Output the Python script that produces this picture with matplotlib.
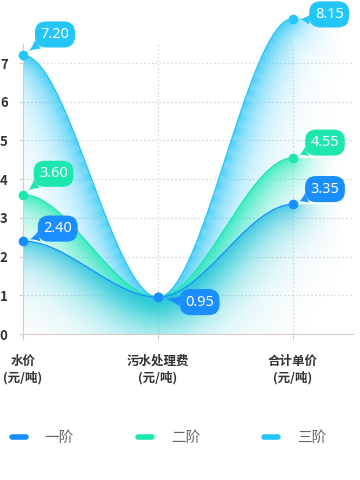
import numpy as np
import matplotlib
matplotlib.use("Agg")
import matplotlib.pyplot as plt
from matplotlib.colors import to_rgb
from matplotlib.lines import Line2D
from matplotlib.patches import Polygon

plt.rcParams["font.family"] = ["Noto Sans CJK SC", "DejaVu Sans"]

categories = ["水价\n(元/吨)", "污水处理费\n(元/吨)", "合计单价\n(元/吨)"]
series_names = ["一阶", "二阶", "三阶"]
tier1 = [2.40, 0.95, 3.35]
tier2 = [3.60, 0.95, 4.55]
tier3 = [7.20, 0.95, 8.15]
line_colors = ["#1a8dff", "#1de6ae", "#23c6f6"]
fill_colors = ["#2cbfe0", "#1fe9b4", "#22c3f5"]
yticks = [0, 1, 2, 3, 4, 5, 6, 7]

W, H = 360, 480
X_MAX, Y_MAX, Y_AXIS_TOP = 2.444, 8.5, 7.49


def smooth(values, n=80):
    # flat tangent at every point, like the original smoothed line
    xs, ys = [], []
    for i in range(len(values) - 1):
        t = np.linspace(0, 1, n, endpoint=False)
        s = 3 * t ** 2 - 2 * t ** 3
        xs.append(i + t)
        ys.append(values[i] + (values[i + 1] - values[i]) * s)
    xs.append([len(values) - 1])
    ys.append([values[-1]])
    return np.concatenate(xs), np.concatenate(ys)


fig = plt.figure(figsize=(W / 100, H / 100), dpi=100)
ax = fig.add_axes([23 / W, 1 - 334 / H, 330 / W, 329 / H])
ax.set_xlim(0, X_MAX)
ax.set_ylim(0, Y_MAX)

px_x = 330 / X_MAX
px_y = 329 / Y_MAX

# gradient fills, strongest close to the curve
gx = np.linspace(0, X_MAX, 240)
gy = np.linspace(0, Y_MAX, 240)
GX, GY = np.meshgrid(gx, gy)
for vals, col in [(tier3, fill_colors[2]), (tier2, fill_colors[1]), (tier1, fill_colors[0])]:
    cx, cy = smooth(vals, 60)
    ext = np.linspace(cx[-1], 2.37, 12)[1:]
    fx = np.concatenate([cx, ext])
    fy = np.concatenate([cy, np.full(len(ext), cy[-1])])
    d = np.full(GX.shape, np.inf)
    for x0, y0 in zip(cx[::2], cy[::2]):
        d = np.minimum(d, np.hypot((GX - x0) * px_x, (GY - y0) * px_y))
    fade = np.clip((2.37 - GX) / 0.45, 0, 1) ** 0.7
    alpha = 0.85 * np.exp(-d / 22.0) * np.where(GX > cx[-1], fade, 1.0)
    rgba = np.zeros(GX.shape + (4,))
    rgba[..., :3] = to_rgb(col)
    rgba[..., 3] = alpha
    poly = Polygon(np.column_stack([np.r_[fx, fx[-1], 0], np.r_[fy, 0, 0]]),
                   closed=True, transform=ax.transData, facecolor="none", edgecolor="none")
    ax.add_patch(poly)
    im = ax.imshow(rgba, extent=[0, X_MAX, 0, Y_MAX], origin="lower",
                   aspect="auto", interpolation="bilinear", zorder=1)
    im.set_clip_path(poly)

# grid
for y in yticks[1:]:
    ax.axhline(y, color="#d6d6d6", lw=0.8, ls=(0, (1.5, 2)), zorder=0.5)
ax.vlines([1, 2], 0, Y_AXIS_TOP, color="#d6d6d6", lw=0.8, ls=(0, (1.5, 2)), zorder=0.5)

# lines and markers
xpos = np.arange(len(categories))
for vals, col in zip([tier3, tier2, tier1], line_colors[::-1]):
    cx, cy = smooth(vals)
    ax.plot(cx, cy, color=col, lw=0.9, zorder=3, clip_on=False)
for vals, col in zip([tier3, tier2, tier1], line_colors[::-1]):
    ax.plot(xpos, vals, ls="none", marker="o", ms=6, color=col, zorder=4, clip_on=False)


def bubble(x, y, text, col, dx, dy, rel=(0.1, 0.1)):
    ax.annotate(text, xy=(x, y), xytext=(dx, dy), textcoords="offset points",
                ha="center", va="center", color="white", fontsize=10.5,
                family=["Noto Sans", "DejaVu Sans"], zorder=6,
                bbox=dict(boxstyle="round,pad=0.38,rounding_size=0.75", fc=col, ec="none"),
                arrowprops=dict(arrowstyle="wedge,tail_width=0.7,shrink_factor=0.35",
                                fc=col, ec="none", shrinkA=0, shrinkB=5, relpos=rel),
                annotation_clip=False)


bubble(0, tier1[0], f"{tier1[0]:.2f}", line_colors[0], 25, 9)
bubble(0, tier2[0], f"{tier2[0]:.2f}", line_colors[1], 22, 15)
bubble(0, tier3[0], f"{tier3[0]:.2f}", line_colors[2], 23, 15)
bubble(1, tier1[1], f"{tier1[1]:.2f}", line_colors[0], 30, -3.5, rel=(0.05, 0.5))
bubble(2, tier1[2], f"{tier1[2]:.2f}", line_colors[0], 23, 11)
bubble(2, tier2[2], f"{tier2[2]:.2f}", line_colors[1], 23, 11)
bubble(2, tier3[2], f"{tier3[2]:.2f}", line_colors[2], 26, 3)

# axes styling
for side in ["top", "right"]:
    ax.spines[side].set_visible(False)
ax.spines["left"].set_bounds(0, Y_AXIS_TOP)
ax.spines["left"].set_color("#d9caca")
ax.spines["bottom"].set_color("#d9caca")
ax.set_yticks(yticks)
ax.set_yticklabels([str(v) for v in yticks], fontsize=9.5, fontweight="bold", color="#333333")
ax.tick_params(axis="y", length=3, color="#d9caca", pad=8)
ax.set_xticks(xpos)
ax.set_xticklabels(categories, fontsize=9, fontweight="bold", color="#333333", linespacing=1.3)
ax.tick_params(axis="x", length=4, color="#d9caca", pad=11)

handles = [Line2D([], [], color=c, lw=4, solid_capstyle="round") for c in line_colors]
fig.legend(handles, series_names, loc="center left", bbox_to_anchor=(12 / W, 1 - 438 / H),
           ncol=3, frameon=False, fontsize=10.5, labelcolor="#666666",
           handlelength=0.95, handletextpad=1.3, columnspacing=4.4,
           borderpad=0, borderaxespad=0)

fig.savefig("out.png", dpi=100)
